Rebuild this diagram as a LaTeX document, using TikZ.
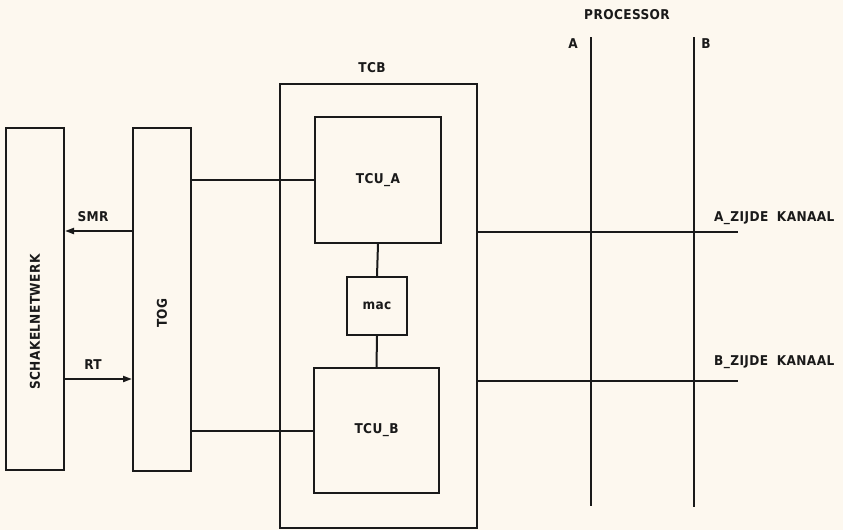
\documentclass[tikz,border=0pt]{standalone}
\usepackage{fontspec}
\newfontfamily\plotfont[LetterSpace=3]{DejaVu Sans Condensed}
\usepackage{tikz}
\usetikzlibrary{arrows.meta,positioning,calc}
\definecolor{papercream}{HTML}{FDF8EF}
\definecolor{inkblack}{HTML}{1A1A1A}

\begin{document}
\begin{tikzpicture}[x=1pt,y=-1pt,
  blk/.style={rectangle,draw=inkblack,line width=2pt,inner sep=0pt,font=\plotfont\bfseries\fontsize{13.5}{15}\selectfont,text=inkblack},
  lbl/.style={inner sep=0pt,font=\plotfont\bfseries\fontsize{13.5}{15}\selectfont,text=inkblack},
  wire/.style={draw=inkblack,line width=2pt},
  arr/.style={wire,-{Triangle[length=9pt,width=6pt]}}
]
\fill[papercream] (0,0) rectangle (843,530);
\useasboundingbox (0,0) rectangle (843,530);

% left side
\node[blk,minimum width=58pt,minimum height=342pt] (schakel) at (35,299) {};
\node[blk,minimum width=58pt,minimum height=343pt] (tog) at (162,299.5) {};
\node[lbl,rotate=90] (schakeltxt) at (35,322) {SCHAKELNETWERK};
\node[lbl,rotate=90] (togtxt) at (162,313) {TOG};

% TCB with its units
\node[blk,minimum width=197pt,minimum height=444pt] (tcb) at (378.5,305.5) {};
\node[lbl] (tcbtxt) at (372,68) {TCB};
\node[blk,minimum width=126pt,minimum height=126pt] (tcua) at (378,180) {TCU\_A};
\node[blk,minimum width=60pt,minimum height=58pt] (mac) at (377,306) {mac};
\node[blk,minimum width=125pt,minimum height=125pt] (tcub) at (376.5,430.5) {TCU\_B};

\draw[wire] (tcua.south) -- (mac.north);
\draw[wire] (mac.south) -- (tcub.north);

\draw[wire] (tog.east |- tcua) -- (tcua.west);
\draw[wire] (tog.east |- tcub) -- (tcub.west);

\coordinate (smr) at (100,231);
\coordinate (rt) at (100,379);
\draw[arr] (smr -| tog.west) -- (smr -| schakel.east);
\draw[arr] (rt -| schakel.east) -- (rt -| tog.west);
\node[lbl] (smrtxt) at (93,217) {SMR};
\node[lbl] (rttxt) at (93,365) {RT};

% processor busses
\node[lbl] (proctxt) at (627,15) {PROCESSOR};
\coordinate (busAtop) at (591,37);
\coordinate (busAbot) at (591,506);
\coordinate (busBtop) at (694,37);
\coordinate (busBbot) at (694,507);
\draw[wire] (busAtop) -- (busAbot);
\draw[wire] (busBtop) -- (busBbot);
\node[lbl] (bustxtA) at (573,44) {A};
\node[lbl] (bustxtB) at (706,44) {B};

% channels
\coordinate (kanA) at (738,232);
\coordinate (kanB) at (738,381);
\draw[wire] (kanA -| tcb.east) -- (kanA);
\draw[wire] (kanB -| tcb.east) -- (kanB);
\node[lbl,anchor=west] (kanAtxt) at (714,218) {A\_ZIJDE\hspace{4pt} KANAAL};
\node[lbl,anchor=west] (kanBtxt) at (714,362) {B\_ZIJDE\hspace{4pt} KANAAL};
\end{tikzpicture}
\end{document}
